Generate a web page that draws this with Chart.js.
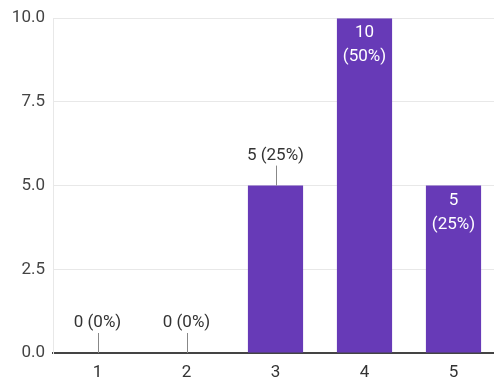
<!DOCTYPE html>
<html>
<head>
<meta charset="utf-8">
<script src="https://cdn.jsdelivr.net/npm/chart.js@4"></script>
<style>
  html, body { margin: 0; padding: 0; background: #fff; overflow: hidden; }
  #wrap { width: 498px; height: 384px; }
</style>
</head>
<body>
<div id="wrap"><canvas id="chart" width="498" height="384"></canvas></div>
<script>
const categories = ['1', '2', '3', '4', '5'];
const counts = [0, 0, 5, 10, 5];
const labelInside = [false, false, false, true, true];
const yTicks = [0, 2.5, 5, 7.5, 10];

const total = counts.reduce((a, b) => a + b, 0);
const FONT = 'Roboto, "Noto Sans", sans-serif';

// value labels: above the bar with a short leader line, or inside on two lines
const barLabels = {
  id: 'barLabels',
  afterDatasetsDraw(chart) {
    const ctx = chart.ctx;
    const meta = chart.getDatasetMeta(0);
    ctx.save();
    ctx.font = '17px ' + FONT;
    ctx.textAlign = 'center';
    ctx.textBaseline = 'middle';
    meta.data.forEach((bar, i) => {
      const v = counts[i];
      const pct = Math.round(v / total * 100) + '%';
      if (labelInside[i]) {
        ctx.fillStyle = '#ffffff';
        ctx.fillText(String(v), bar.x, bar.y + 15);
        ctx.fillText('(' + pct + ')', bar.x, bar.y + 39);
      } else {
        ctx.strokeStyle = '#888888';
        ctx.lineWidth = 1;
        ctx.beginPath();
        ctx.moveTo(Math.round(bar.x) + 0.5, bar.y - 20);
        ctx.lineTo(Math.round(bar.x) + 0.5, bar.y);
        ctx.stroke();
        ctx.fillStyle = '#333333';
        ctx.fillText(v + ' (' + pct + ')', bar.x, bar.y - 30);
      }
    });
    ctx.restore();
  }
};

new Chart(document.getElementById('chart'), {
  type: 'bar',
  data: {
    labels: categories,
    datasets: [{
      data: counts,
      backgroundColor: '#673ab7',
      borderWidth: 0,
      categoryPercentage: 1,
      barPercentage: 0.62
    }]
  },
  options: {
    responsive: false,
    animation: false,
    layout: { padding: { top: 14, right: 0, left: 0, bottom: 0 } },
    plugins: {
      legend: { display: false },
      tooltip: { enabled: false }
    },
    scales: {
      x: {
        grid: { display: false, drawTicks: false },
        border: { color: '#444444', width: 2 },
        ticks: { color: '#333333', font: { family: FONT, size: 17 }, padding: 10 },
        afterFit(scale) { scale.height = 31; }
      },
      y: {
        min: 0,
        max: 10,
        afterBuildTicks(scale) { scale.ticks = yTicks.map(v => ({ value: v })); },
        grid: { color: '#e8e8e8', lineWidth: 1, drawTicks: false },
        border: { color: '#e8e8e8', width: 1 },
        ticks: {
          color: '#444444',
          font: { family: FONT, size: 17 },
          padding: 8,
          callback: v => Number(v).toFixed(1)
        },
        afterFit(scale) { scale.width = 53; }
      }
    }
  },
  plugins: [barLabels]
});
</script>
</body>
</html>
